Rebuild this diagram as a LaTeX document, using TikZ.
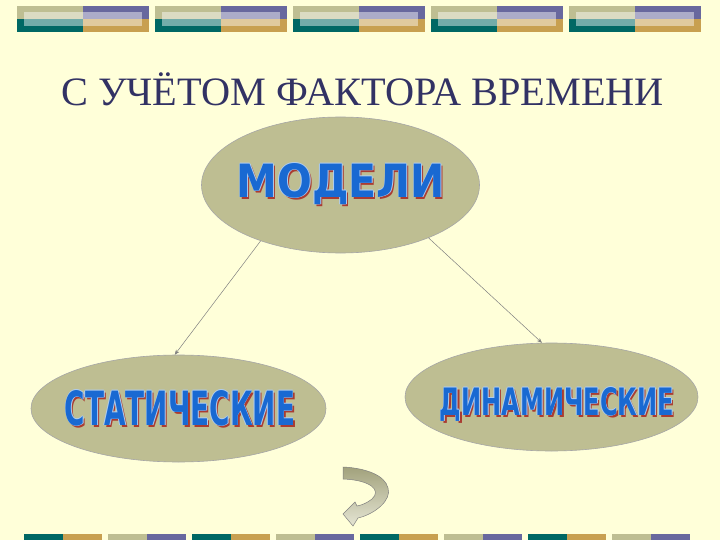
\documentclass[tikz,border=0pt]{standalone}
\usepackage{fontspec}
\usepackage{graphicx}
\usepackage{xcolor}
\usetikzlibrary{arrows.meta, shapes.geometric}
\setmainfont{Liberation Serif}
\newfontfamily\wordfont{DejaVu Sans Condensed}

\definecolor{paper}{RGB}{255,255,217}
\definecolor{oliveGrey}{RGB}{190,190,146}
\definecolor{barPurple}{RGB}{104,104,158}
\definecolor{barTeal}{RGB}{0,104,100}
\definecolor{barGold}{RGB}{200,160,80}
\definecolor{titleBlue}{RGB}{50,50,100}
\definecolor{wordBlue}{RGB}{25,105,210}
\definecolor{wordGlow}{RGB}{175,205,240}
\definecolor{wordShade}{RGB}{170,60,50}

% stretched heavy word: text, width, height
\newcommand{\wordbox}[3]{\resizebox{#2pt}{#3pt}{\wordfont\bfseries #1}}
% word with red shadow and light rim
\newcommand{\fatword}[3]{%
    \rlap{\hspace{2pt}\raisebox{-2pt}{\color{wordShade}\wordbox{#1}{#2}{#3}}}%
    \rlap{\hspace{-0.8pt}\color{wordGlow}\wordbox{#1}{#2}{#3}}%
    \rlap{\hspace{0.8pt}\color{wordGlow}\wordbox{#1}{#2}{#3}}%
    \rlap{\raisebox{0.8pt}{\color{wordGlow}\wordbox{#1}{#2}{#3}}}%
    \rlap{\raisebox{-0.8pt}{\color{wordGlow}\wordbox{#1}{#2}{#3}}}%
    {\color{wordBlue}\wordbox{#1}{#2}{#3}}}

\tikzset{
    oval/.style={ellipse, draw=gray!70, line width=0.6pt, fill=oliveGrey, inner sep=0pt},
    word/.style={inner sep=0pt, anchor=base},
    link/.style={draw=gray, line width=0.5pt, -{Stealth[length=5pt,width=4pt]}}
}

\begin{document}
\begin{tikzpicture}[x=1pt, y=-1pt]
    \fill[paper] (0,0) rectangle (720,540);
    \useasboundingbox (0,0) rectangle (720,540);

    % top bars
    \foreach \i in {0,...,4}{
        \begin{scope}[xshift=138*\i]
            \fill[oliveGrey] (17,6) rectangle (83,19.3);
            \fill[barPurple] (83,6) rectangle (149,19.3);
            \fill[barTeal] (17,19.3) rectangle (83,32.5);
            \fill[barGold] (83,19.3) rectangle (149,32.5);
            \fill[white, opacity=0.45] (24,12.3) rectangle (142,26);
        \end{scope}
    }

    % bottom bars
    \foreach \i/\cl/\cr in {0/barTeal/barGold, 1/oliveGrey/barPurple, 2/barTeal/barGold, 3/oliveGrey/barPurple,
                            4/barTeal/barGold, 5/oliveGrey/barPurple, 6/barTeal/barGold, 7/oliveGrey/barPurple}{
        \fill[\cl] (24+84*\i,534) rectangle (63+84*\i,541);
        \fill[\cr] (63+84*\i,534) rectangle (102+84*\i,541);
    }

    \node[anchor=base, text=titleBlue, font=\fontsize{40.3}{42}\selectfont] (title) at (362.5,106) {С УЧЁТОМ ФАКТОРА ВРЕМЕНИ};

    \node[oval, minimum width=278pt, minimum height=136pt] (modeli) at (340.5,185) {};
    \node[oval, minimum width=295pt, minimum height=107pt] (stat) at (178.5,408.5) {};
    \node[oval, minimum width=293pt, minimum height=108pt] (dinam) at (551.5,397) {};

    \node[word] (modeliText) at (341,197) {\fatword{МОДЕЛИ}{208}{34}};
    \node[word] (statText) at (180,425) {\fatword{СТАТИЧЕСКИЕ}{230}{35}};
    \node[word] (dinamText) at (557,415) {\fatword{ДИНАМИЧЕСКИЕ}{234}{28}};

    \draw[link] (modeli.215) -- (stat.94);
    \draw[link] (modeli.329) -- (dinam.100);

    % curved arrow
    \draw[draw=gray, line width=0.5pt, top color=oliveGrey!85!black, bottom color=oliveGrey!40!white]
        (343,467) -- (343,479) .. controls (370,480) and (382,490) .. (372,499)
        .. controls (367,503) and (362,505) .. (357,506) -- (355,502) -- (343,514)
        -- (353,526) -- (358,518) .. controls (375,514) and (392,500) .. (388,488)
        .. controls (385,475) and (365,468) .. (343,467) -- cycle;
\end{tikzpicture}
\end{document}
